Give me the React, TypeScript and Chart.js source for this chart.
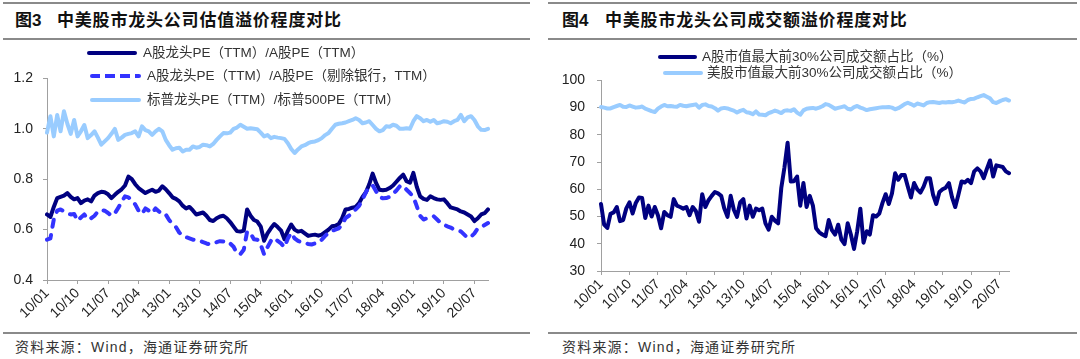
import React, { useEffect, useRef } from "react";
import Chart from "chart.js/auto";

// ---------------- data ----------------
const TICK_EVERY = 9; // one axis label every 9 months

// Fig.3 (monthly, 2010/01 - 2020/11)
const A_LEADER_PE = [
  0.66, 0.65, 0.69, 0.725, 0.73, 0.735, 0.745, 0.73, 0.72, 0.725,
  0.705, 0.715, 0.72, 0.712, 0.735, 0.745, 0.75, 0.748, 0.74, 0.725,
  0.738, 0.75, 0.76, 0.775, 0.81, 0.8, 0.78, 0.765, 0.755, 0.745,
  0.752, 0.758, 0.75, 0.755, 0.772, 0.76, 0.745, 0.728, 0.722, 0.712,
  0.695, 0.684, 0.69, 0.676, 0.66, 0.664, 0.668, 0.655, 0.638, 0.634,
  0.645, 0.652, 0.655, 0.645, 0.63, 0.612, 0.594, 0.592, 0.596, 0.68,
  0.655, 0.638, 0.632, 0.612, 0.556, 0.585, 0.605, 0.622, 0.61, 0.596,
  0.562, 0.595, 0.62, 0.6, 0.592, 0.595, 0.585, 0.575, 0.578, 0.58,
  0.576, 0.58, 0.59, 0.6, 0.613, 0.615, 0.622, 0.645, 0.68, 0.682,
  0.687, 0.69, 0.705, 0.73, 0.748, 0.78, 0.822, 0.785, 0.758, 0.756,
  0.758, 0.765, 0.775, 0.79, 0.805, 0.818, 0.792, 0.786, 0.825, 0.77,
  0.732, 0.722, 0.718, 0.732, 0.725, 0.72, 0.718, 0.72, 0.705, 0.688,
  0.684, 0.68, 0.672, 0.668, 0.66, 0.652, 0.634, 0.645, 0.66, 0.665,
  0.68,
];
const A_LEADER_PE_EX_BANK = [
  0.56, 0.565, 0.64, 0.675, 0.68, 0.672, 0.665, 0.66, 0.662, 0.635,
  0.648, 0.66, 0.64, 0.645, 0.655, 0.672, 0.678, 0.675, 0.666, 0.655,
  0.665, 0.686, 0.71, 0.732, 0.728, 0.715, 0.7, 0.675, 0.662, 0.684,
  0.675, 0.665, 0.684, 0.672, 0.66, 0.66, 0.638, 0.622, 0.61, 0.588,
  0.575, 0.57, 0.565, 0.56, 0.558, 0.556, 0.55, 0.545, 0.541, 0.545,
  0.55, 0.554, 0.553, 0.555, 0.545, 0.532, 0.505, 0.503, 0.52, 0.593,
  0.585, 0.562, 0.56, 0.54, 0.502, 0.53, 0.555, 0.567, 0.555, 0.545,
  0.53, 0.565, 0.587, 0.565, 0.555, 0.55, 0.546, 0.543, 0.541, 0.545,
  0.548, 0.56, 0.575, 0.588, 0.595, 0.6, 0.605, 0.62, 0.646, 0.655,
  0.666, 0.68, 0.694, 0.72, 0.748, 0.77, 0.775, 0.752, 0.73, 0.724,
  0.725, 0.73, 0.742, 0.755, 0.772, 0.775, 0.758, 0.745, 0.73, 0.693,
  0.655, 0.64, 0.645, 0.65, 0.653, 0.64, 0.627, 0.62, 0.613, 0.608,
  0.6, 0.597, 0.593, 0.58, 0.567, 0.572, 0.585, 0.605, 0.61, 0.618,
  0.626,
];
const SP_LEADER_PE = [
  0.985, 1.05, 0.97, 1.055, 0.99, 1.07, 1.02, 0.98, 1.035, 0.97,
  0.99, 1.015, 0.963, 0.975, 0.99, 0.965, 0.937, 0.95, 0.963, 0.98,
  1.0, 0.956, 0.965, 0.976, 0.98, 0.983, 0.99, 0.97, 1.01, 0.995,
  0.99, 0.976, 0.99, 1.0, 0.99, 0.956, 0.935, 0.917, 0.923, 0.925,
  0.91, 0.917, 0.917, 0.93, 0.925, 0.928, 0.937, 0.935, 0.93, 0.94,
  0.956, 0.97, 0.983, 0.982, 0.985, 1.0, 1.005, 1.016, 1.008, 1.0,
  1.002, 1.0, 0.998, 0.985, 0.97, 0.975, 0.963, 0.968, 0.965, 0.963,
  0.96, 0.943, 0.92, 0.904, 0.918, 0.93, 0.935, 0.943, 0.948, 0.95,
  0.955, 0.963, 0.975, 0.983, 1.0, 1.016, 1.02, 1.022, 1.025, 1.03,
  1.035, 1.042, 1.035, 1.022, 1.025, 1.03, 1.015, 1.0, 0.99, 0.995,
  1.01, 1.008, 1.016, 1.012, 1.0, 1.0, 1.002, 1.0, 1.03, 1.05,
  1.042, 1.03, 1.035, 1.028, 1.035, 1.022, 1.025, 1.03, 1.028, 1.022,
  1.03, 1.035, 1.055, 1.03, 1.045, 1.05, 1.035, 1.01, 0.996, 0.995,
  1.0,
];
const LEFT_Y_TICKS = [0.4, 0.6, 0.8, 1.0, 1.2];

// Fig.4 (monthly, 2010/01 - 2020/10)
const A_TOP30_TURNOVER = [
  54.6, 47.0, 45.8, 51.0, 51.5, 53.5, 48.3, 48.7, 53.0, 55.2,
  51.1, 55.0, 57.0, 56.8, 49.5, 54.0, 50.0, 53.5, 50.5, 45.7,
  51.7, 50.5, 49.9, 56.4, 54.0, 53.5, 52.9, 53.5, 50.5, 53.5,
  52.0, 48.1, 58.2, 53.5, 56.0, 57.6, 59.0, 58.5, 57.6, 52.9,
  49.9, 57.6, 52.5, 49.9, 55.2, 56.4, 49.3, 54.0, 49.9, 52.9,
  52.3, 52.9, 47.5, 45.2, 49.9, 48.5, 47.5, 60.5, 68.0, 77.1,
  62.9, 63.0, 64.7, 54.0, 62.3, 53.5, 57.6, 54.0, 45.7, 44.2,
  43.4, 42.8, 48.7, 45.0, 43.4, 47.0, 41.5, 39.9, 47.5, 43.4,
  38.1, 44.6, 52.9, 40.4, 44.6, 43.4, 50.5, 50.0, 51.1, 55.0,
  58.2, 54.6, 58.5, 65.9, 63.5, 65.3, 65.3, 61.0, 57.0, 62.3,
  60.0, 58.8, 61.0, 64.1, 64.1, 58.0, 54.6, 59.0, 60.0, 60.6,
  62.3, 57.0, 53.5, 58.0, 62.9, 62.5, 63.5, 62.3, 66.6, 67.7,
  66.6, 64.1, 67.5, 70.6, 64.7, 68.8, 68.5, 68.2, 66.6, 65.9,
];
const US_TOP30_TURNOVER = [
  90.2, 90.0, 89.7, 89.7, 90.2, 90.6, 91.0, 90.3, 90.2, 90.8,
  90.4, 90.0, 90.1, 90.4, 89.6, 89.2, 88.7, 88.4, 89.6, 90.4,
  91.0, 90.5, 90.6, 90.4, 90.3, 91.0, 90.7, 90.5, 90.8, 91.0,
  91.2, 90.0, 91.0, 91.2, 90.6, 90.4, 89.8, 88.9, 89.7, 89.9,
  89.7, 89.3, 88.9, 88.2, 88.8, 89.2, 88.3, 88.1, 87.6, 88.6,
  87.5, 87.4, 87.2, 88.0, 88.4, 88.9, 88.5, 88.0, 88.9, 89.0,
  88.8, 89.4, 88.2, 87.4, 89.0, 89.6, 89.8, 89.9, 89.6, 90.0,
  90.5, 91.3, 91.0, 90.3, 89.6, 89.9, 90.2, 90.5, 89.6, 89.3,
  90.2, 90.6, 90.0, 89.6, 89.1, 89.4, 89.6, 89.8, 90.0, 90.1,
  90.1, 90.2, 90.0, 89.4, 89.8, 90.5, 91.3, 91.8, 91.3, 90.7,
  91.5, 91.2, 90.8, 91.7, 92.0, 92.1, 91.9, 91.7, 92.0, 91.9,
  92.1, 92.0, 92.2, 92.6, 92.2, 91.9, 92.8, 93.2, 93.3, 93.8,
  94.2, 94.6, 94.0, 93.4, 92.0, 91.7, 92.3, 92.8, 93.1, 92.6,
];
const RIGHT_Y_TICKS = [30, 40, 50, 60, 70, 80, 90, 100];

const LEFT_TITLE_NO = "图3";
const LEFT_TITLE = "中美股市龙头公司估值溢价程度对比";
const RIGHT_TITLE_NO = "图4";
const RIGHT_TITLE = "中美股市龙头公司成交额溢价程度对比";
const SOURCE = "资料来源：Wind，海通证券研究所";
const LEFT_NAMES = [
  "A股龙头PE（TTM）/A股PE（TTM）",
  "A股龙头PE（TTM）/A股PE（剔除银行，TTM）",
  "标普龙头PE（TTM）/标普500PE（TTM）",
];
const RIGHT_NAMES = [
  "A股市值最大前30%公司成交额占比（%）",
  "美股市值最大前30%公司成交额占比（%）",
];

function monthLabels(n: number, startYear: number): string[] {
  const out: string[] = [];
  for (let i = 0; i < n; i++) {
    const yy = (startYear + Math.floor(i / 12)) % 100;
    const mm = (i % 12) + 1;
    out.push(`${String(yy).padStart(2, "0")}/${String(mm).padStart(2, "0")}`);
  }
  return out;
}
const LEFT_LABELS = monthLabels(A_LEADER_PE.length, 2010);
const RIGHT_LABELS = monthLabels(A_TOP30_TURNOVER.length, 2010);

// ---------------- styles ----------------
const NAVY = "#000080";
const BLUE = "#3333FF";
const LIGHT = "#99CCFF";
const AXIS = "#a0a0a0";
const TICK_TEXT = "#222222";
const FONT = '"Liberation Sans", Arial, "Noto Sans CJK SC", sans-serif';
const LINE_W = 4;

function buildConfig(o: {
  labels: string[];
  datasets: any[];
  yTicks: number[];
  yFmt: (v: number) => string;
  yWidth: number;
  xHeight: number;
  padding: any;
  yPad: number;
}): any {
  const yMin = Math.min(...o.yTicks);
  const yMax = Math.max(...o.yTicks);
  return {
    type: "line",
    data: { labels: o.labels, datasets: o.datasets },
    options: {
      responsive: false,
      animation: false,
      devicePixelRatio: 1,
      layout: { padding: o.padding },
      plugins: { legend: { display: false }, tooltip: { enabled: false } },
      elements: { point: { radius: 0 }, line: { tension: 0 } },
      scales: {
        x: {
          type: "category",
          offset: false,
          afterBuildTicks: (scale: any) => {
            scale.ticks = scale.ticks.filter((t: any) => t.value % TICK_EVERY === 0);
          },
          afterFit: (scale: any) => {
            scale.height = o.xHeight;
          },
          grid: { drawOnChartArea: false, drawTicks: true, tickLength: 4, color: AXIS },
          border: { display: true, color: AXIS, width: 1 },
          ticks: {
            autoSkip: false,
            minRotation: 45,
            maxRotation: 45,
            padding: 1,
            color: TICK_TEXT,
            font: { family: FONT, size: 14 },
          },
        },
        y: {
          min: yMin,
          max: yMax,
          afterBuildTicks: (scale: any) => {
            scale.ticks = o.yTicks.map((v) => ({ value: v }));
          },
          afterFit: (scale: any) => {
            scale.width = o.yWidth;
          },
          grid: { drawOnChartArea: false, drawTicks: true, tickLength: 4, color: AXIS },
          border: { display: true, color: AXIS, width: 1 },
          ticks: {
            padding: o.yPad,
            color: TICK_TEXT,
            font: { family: FONT, size: 14 },
            callback: (v: any) => o.yFmt(Number(v)),
          },
        },
      },
    },
  };
}

function ChartCanvas(props: { left: number; top: number; width: number; height: number; build: () => any }) {
  const ref = useRef<HTMLCanvasElement>(null);
  useEffect(() => {
    const chart = new Chart(ref.current as HTMLCanvasElement, props.build());
    return () => chart.destroy();
  }, []);
  return (
    <canvas
      ref={ref}
      width={props.width}
      height={props.height}
      style={{ position: "absolute", left: props.left, top: props.top, width: props.width, height: props.height }}
    />
  );
}

function Rule({ left, top, width }: { left: number; top: number; width: number }) {
  return <div style={{ position: "absolute", left, top, width, height: 2, background: "#8a8a8a" }} />;
}

function LegendRow(p: {
  y: number;
  x1: number;
  x2: number;
  tx: number;
  color: string;
  dashed?: boolean;
  text: string;
}) {
  const bg = p.dashed
    ? `repeating-linear-gradient(to right, ${p.color} 0px, ${p.color} 10px, transparent 10px, transparent 15px)`
    : p.color;
  return (
    <>
      <div
        style={{
          position: "absolute",
          left: p.x1,
          top: p.y - 2,
          width: p.x2 - p.x1,
          height: 4,
          background: bg,
          borderRadius: 2,
        }}
      />
      <div
        style={{
          position: "absolute",
          left: p.tx,
          top: p.y - 10,
          height: 20,
          lineHeight: "20px",
          fontSize: 13.5,
          color: "#333",
          whiteSpace: "nowrap",
        }}
      >
        {p.text}
      </div>
    </>
  );
}

function Title(p: { x: number; tx: number; no: string; text: string }) {
  const st: any = {
    position: "absolute",
    top: 10,
    height: 22,
    lineHeight: "22px",
    fontSize: 17,
    fontWeight: "bold",
    color: "#111",
    whiteSpace: "nowrap",
  };
  return (
    <>
      <div style={{ ...st, left: p.x }}>{p.no}</div>
      <div style={{ ...st, left: p.tx, letterSpacing: 0.8 }}>{p.text}</div>
    </>
  );
}

function Source({ x }: { x: number }) {
  return (
    <div
      style={{
        position: "absolute",
        left: x,
        top: 337,
        height: 20,
        lineHeight: "20px",
        fontSize: 14,
        letterSpacing: 1.2,
        color: "#333",
        whiteSpace: "nowrap",
      }}
    >
      {SOURCE}
    </div>
  );
}

function lineDs(label: string, data: number[], color: string, extra: any = {}) {
  return {
    label,
    data,
    borderColor: color,
    borderWidth: LINE_W,
    borderJoinStyle: "round",
    borderCapStyle: "round",
    pointRadius: 0,
    fill: false,
    ...extra,
  };
}

export default function App() {
  const buildLeft = () =>
    buildConfig({
      labels: LEFT_LABELS,
      yTicks: LEFT_Y_TICKS,
      yFmt: (v) => v.toFixed(1),
      yWidth: 47,
      xHeight: 52,
      yPad: 10,
      padding: { top: 18, right: 4, left: 0, bottom: 0 },
      datasets: [
        lineDs(LEFT_NAMES[0], A_LEADER_PE, NAVY, { order: 1 }),
        lineDs(LEFT_NAMES[1], A_LEADER_PE_EX_BANK, BLUE, { order: 0, borderDash: [7, 8.5] }),
        lineDs(LEFT_NAMES[2], SP_LEADER_PE, LIGHT, { order: 2 }),
      ],
    });

  const buildRight = () =>
    buildConfig({
      labels: RIGHT_LABELS,
      yTicks: RIGHT_Y_TICKS,
      yFmt: (v) => String(Math.round(v)),
      yWidth: 51,
      xHeight: 51,
      yPad: 12,
      padding: { top: 14, right: 4, left: 0, bottom: 0 },
      datasets: [
        lineDs(RIGHT_NAMES[0], A_TOP30_TURNOVER, NAVY),
        lineDs(RIGHT_NAMES[1], US_TOP30_TURNOVER, LIGHT),
      ],
    });

  return (
    <div
      style={{
        position: "absolute",
        left: 0,
        top: 0,
        width: 1080,
        height: 359,
        background: "#fff",
        overflow: "hidden",
        fontFamily: FONT,
      }}
    >
      {/* left panel */}
      <Rule left={3} top={2} width={527} />
      <Title x={15} tx={57} no={LEFT_TITLE_NO} text={LEFT_TITLE} />
      <Rule left={3} top={38} width={527} />
      <ChartCanvas left={0} top={60} width={492} height={272} build={buildLeft} />
      <LegendRow y={53} x1={87} x2={137} tx={143} color={NAVY} text={LEFT_NAMES[0]} />
      <LegendRow y={76} x1={90} x2={141} tx={147} color={BLUE} dashed text={LEFT_NAMES[1]} />
      <LegendRow y={100} x1={90} x2={141} tx={147} color={LIGHT} text={LEFT_NAMES[2]} />
      <Rule left={3} top={332} width={527} />
      <Source x={15} />

      {/* right panel */}
      <Rule left={548} top={2} width={529} />
      <Title x={562} tx={605} no={RIGHT_TITLE_NO} text={RIGHT_TITLE} />
      <Rule left={548} top={38} width={529} />
      <ChartCanvas left={550} top={60} width={463} height={262} build={buildRight} />
      <LegendRow y={57} x1={658} x2={697} tx={702} color={NAVY} text={RIGHT_NAMES[0]} />
      <LegendRow y={73} x1={663} x2={703} tx={707} color={LIGHT} text={RIGHT_NAMES[1]} />
      <Rule left={548} top={332} width={529} />
      <Source x={562} />
    </div>
  );
}
